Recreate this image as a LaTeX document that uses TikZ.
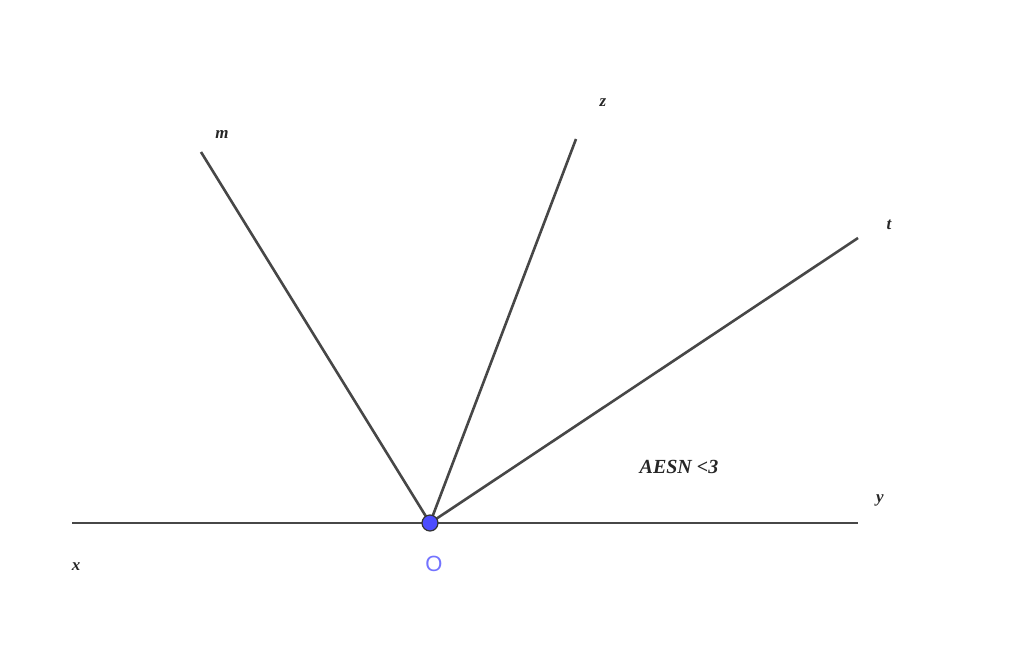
\documentclass[tikz,border=0pt]{standalone}
\usepackage{fontspec}
\setmainfont{Liberation Serif}
\newfontfamily\sansf{Liberation Sans}
\begin{document}
\begin{tikzpicture}[x=1pt,y=-1pt,
  ray/.style={draw=black!72,line width=2.6pt},
  lbl/.style={font=\fontsize{17}{17}\selectfont\bfseries\itshape,text=black!85}]
\useasboundingbox (0,0) rectangle (1024,660);
\coordinate (O) at (430,523);
\coordinate (X) at (72,523);
\coordinate (Y) at (858,523);
\coordinate (M) at (201,152);
\coordinate (Z) at (576,139);
\coordinate (T) at (858,238);
\draw[ray] (X) -- (Y);
\draw[ray] (O) -- (M);
\draw[ray] (O) -- (Z);
\draw[ray] (O) -- (T);
\node[circle,fill=blue!70!white,draw=black!80,line width=1.2pt,minimum size=16pt,inner sep=0] (Opt) at (O) {};
\node[lbl] (lm) at (222,134) {m};
\node[lbl] (lz) at (603,103) {z};
\node[lbl] (lt) at (889,225) {t};
\node[lbl] (ly) at (880,500) {y};
\node[lbl] (lx) at (76,567) {x};
\node[font=\sansf\fontsize{22}{22}\selectfont,text=blue!55!white] (lO) at (434,564) {O};
\node[lbl,font=\fontsize{20}{20}\selectfont\bfseries\itshape] (txt) at (679,467) {AESN <3};
\end{tikzpicture}
\end{document}
